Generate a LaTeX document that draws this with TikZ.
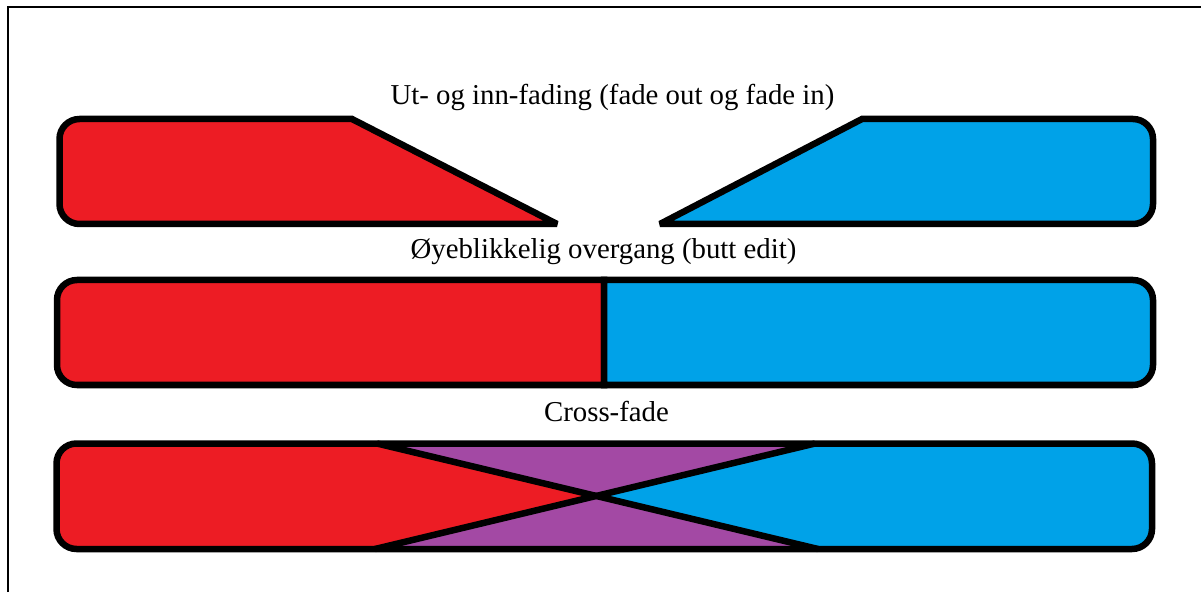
\documentclass[tikz,border=0pt]{standalone}
\usepackage{fontspec}
\setmainfont{Liberation Serif}
\definecolor{fadered}{HTML}{ED1C24}
\definecolor{fadeblue}{HTML}{00A2E8}
\definecolor{fadepurple}{HTML}{A349A4}
\begin{document}
\begin{tikzpicture}[x=1pt,y=1pt,
  outline/.style={draw=black,line width=6.5pt,line join=miter,miter limit=2},
  label/.style={font=\fontsize{28.8}{32}\selectfont,anchor=base,inner sep=0pt}]
\useasboundingbox (0,0) rectangle (1201,592);
% frame
\draw[line width=2pt] (8,0) -- (8,585) -- (1201,585);

% fade out / fade in
\node[label] (t1) at (612.5,487) {Ut- og inn-fading (fade out og fade in)};
\filldraw[outline,fill=fadered] (352,473) -- (79.5,473)
  arc[start angle=90,end angle=180,radius=20] -- (59.5,388)
  arc[start angle=180,end angle=270,radius=20] -- (557,368) -- cycle;
\filldraw[outline,fill=fadeblue] (862,473) -- (1133,473)
  arc[start angle=90,end angle=0,radius=20] -- (1153,388)
  arc[start angle=0,end angle=-90,radius=20] -- (660,368) -- cycle;

% butt edit
\node[label] (t2) at (603.5,333) {Øyeblikkelig overgang (butt edit)};
\filldraw[outline,fill=fadered] (604,312) -- (77,312)
  arc[start angle=90,end angle=180,radius=20] -- (57,227)
  arc[start angle=180,end angle=270,radius=20] -- (604,207) -- cycle;
\filldraw[outline,fill=fadeblue] (604,312) -- (1133,312)
  arc[start angle=90,end angle=0,radius=20] -- (1153,227)
  arc[start angle=0,end angle=-90,radius=20] -- (604,207) -- cycle;

% cross-fade
\node[label] (t3) at (606.5,171) {Cross-fade};
\coordinate (rt) at (377,148.5);
\coordinate (rb) at (375,43);
\coordinate (bt) at (815,148.5);
\coordinate (bb) at (818,43);
\coordinate (x) at (intersection of rt--bb and rb--bt);
\fill[fadered] (rt) -- (76.5,148.5)
  arc[start angle=90,end angle=180,radius=20] -- (56.5,63)
  arc[start angle=180,end angle=270,radius=20] -- (rb) -- (x) -- cycle;
\fill[fadeblue] (bt) -- (1132,148.5)
  arc[start angle=90,end angle=0,radius=20] -- (1152,63)
  arc[start angle=0,end angle=-90,radius=20] -- (bb) -- (x) -- cycle;
\fill[fadepurple] (rt) -- (bt) -- (x) -- cycle;
\fill[fadepurple] (rb) -- (bb) -- (x) -- cycle;
\draw[outline] (76.5,148.5) -- (1132,148.5)
  arc[start angle=90,end angle=0,radius=20] -- (1152,63)
  arc[start angle=0,end angle=-90,radius=20] -- (76.5,43)
  arc[start angle=270,end angle=180,radius=20] -- (56.5,128.5)
  arc[start angle=180,end angle=90,radius=20] -- cycle;
\draw[outline] (rt) -- (bb);
\draw[outline] (rb) -- (bt);
\end{tikzpicture}
\end{document}
